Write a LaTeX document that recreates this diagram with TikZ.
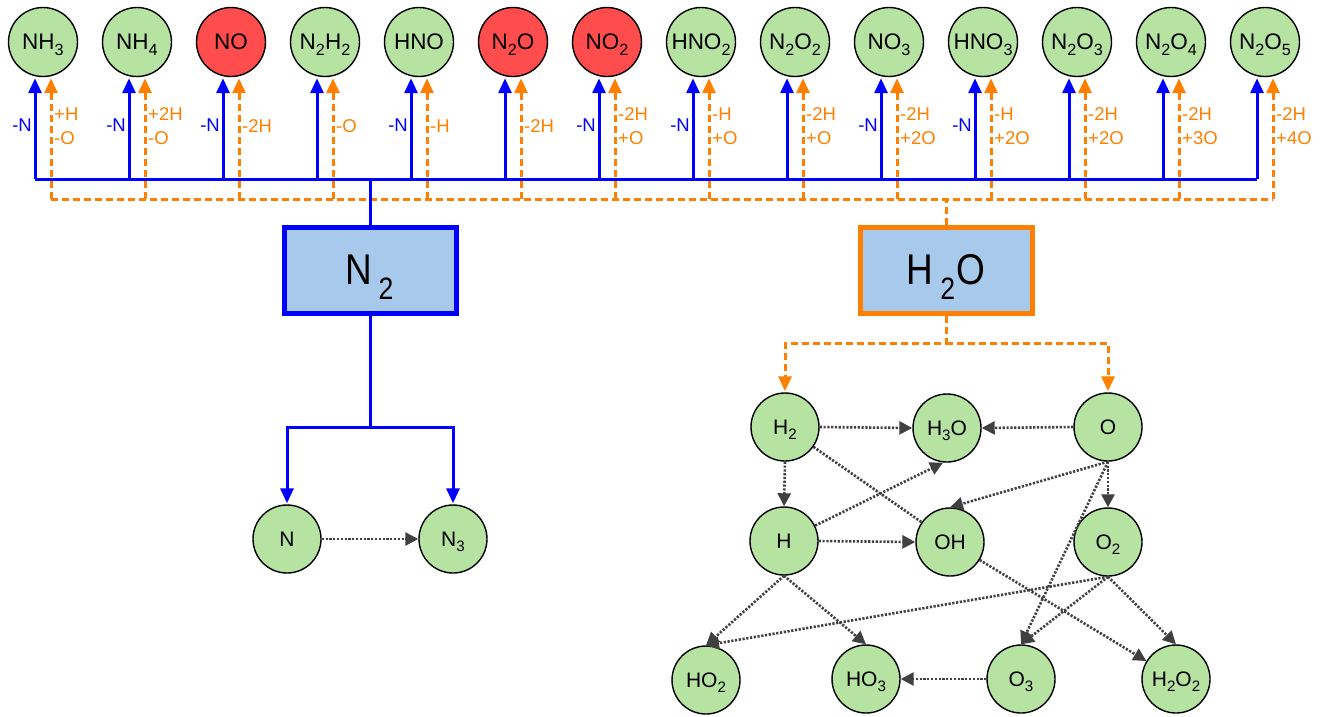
\documentclass[tikz,border=0pt]{standalone}
\usepackage{fontspec}
\usepackage{graphicx}
\setmainfont{Liberation Sans}
\usetikzlibrary{arrows.meta}
\definecolor{cgreen}{RGB}{182,227,162}
\definecolor{cred}{RGB}{255,77,77}
\definecolor{cbox}{RGB}{166,201,236}
\definecolor{corange}{RGB}{255,128,0}
\definecolor{cblue}{RGB}{0,0,255}
\definecolor{cgray}{RGB}{64,64,64}
\newcommand\chsub[1]{\raisebox{-0.24em}[0pt][0pt]{\scalebox{0.72}{#1}}}
\newcommand\bigsub[1]{\hspace{0.18em}\raisebox{-0.34em}[0pt][0pt]{\scalebox{0.72}{#1}}\hspace{0.03em}}
\newcommand\squeeze[1]{\scalebox{0.86}[1]{#1}}
\newcommand\topunit[5]{%
  \node[topnode,fill=#4] (#2) at ({43+94*#1},42) {#3};
  \coordinate (#2b) at ({43+94*#1-8},179);
  \coordinate (#2o) at ({43+94*#1+8},199);
  \draw[orangearrow] (#2o) -- (#2o |- #2.south);
  \draw[bluearrow] (#2b) -- (#2b |- #2.south);
  \node[olabel] (#2ol) at ({43+94*#1+11},126) {#5};
}
\begin{document}
\begin{tikzpicture}[x=1pt,y=-1pt,
  topnode/.style={circle,draw=black,line width=1.4pt,minimum size=69pt,inner sep=0pt,font=\fontsize{22.5}{27}\selectfont},
  molnode/.style={circle,draw=black,line width=1.4pt,fill=cgreen,minimum size=68pt,inner sep=0pt,font=\fontsize{21}{25}\selectfont},
  bigbox/.style={rectangle,line width=5pt,fill=cbox,minimum width=172pt,minimum height=86pt,inner sep=0pt,font=\fontsize{43}{48}\selectfont},
  blueline/.style={draw=cblue,line width=3pt},
  bluearrow/.style={blueline,shorten >=1pt,-{Triangle[width=13pt,length=15pt]}},
  orangeline/.style={draw=corange,line width=3pt,dash pattern=on 7pt off 4pt},
  orangearrow/.style={orangeline,shorten >=1pt,-{Triangle[width=13pt,length=15pt]}},
  dotline/.style={draw=cgray,line width=2.6pt,dash pattern=on 2.2pt off 1.6pt},
  dotarrow/.style={dotline,-{Triangle[width=13pt,length=13pt]}},
  blabel/.style={text=cblue,font=\fontsize{18.5}{24}\selectfont,inner sep=0pt,anchor=east},
  olabel/.style={text=corange,font=\fontsize{18.5}{24}\selectfont,inner sep=0pt,anchor=west,align=left},
]
\fill[white] (0,0) rectangle (1327,716);
\useasboundingbox (0,0) rectangle (1327,716);

% top row
\topunit{0}{nh3}{NH\chsub{3}}{cgreen}{+H\\-O}
\topunit{1}{nh4}{NH\chsub{4}}{cgreen}{+2H\\-O}
\topunit{2}{no}{NO}{cred}{-2H}
\topunit{3}{n2h2}{N\chsub{2}H\chsub{2}}{cgreen}{-O}
\topunit{4}{hno}{HNO}{cgreen}{-H}
\topunit{5}{n2o}{N\chsub{2}O}{cred}{-2H}
\topunit{6}{no2}{NO\chsub{2}}{cred}{-2H\\+O}
\topunit{7}{hno2}{HNO\chsub{2}}{cgreen}{-H\\+O}
\topunit{8}{n2o2}{N\chsub{2}O\chsub{2}}{cgreen}{-2H\\+O}
\topunit{9}{no3}{NO\chsub{3}}{cgreen}{-2H\\+2O}
\topunit{10}{hno3}{HNO\chsub{3}}{cgreen}{-H\\+2O}
\topunit{11}{n2o3}{N\chsub{2}O\chsub{3}}{cgreen}{-2H\\+2O}
\topunit{12}{n2o4}{N\chsub{2}O\chsub{4}}{cgreen}{-2H\\+3O}
\topunit{13}{n2o5}{N\chsub{2}O\chsub{5}}{cgreen}{-2H\\+4O}

\foreach \nm in {nh3,nh4,no,hno,no2,hno2,no3,hno3}
  \node[blabel] (\nm bl) at ([xshift=-3pt]\nm b |- 0,125) {-N};

% boxes
\node[bigbox,draw=cblue] (boxN2) at (370,270) {\squeeze{N\bigsub{2}}};
\node[bigbox,draw=corange] (boxH2O) at (946,270) {\squeeze{H\bigsub{2}O}};

% buses
\draw[orangeline] (nh3o) -- (n2o5o);
\draw[orangeline] (boxH2O.north) -- (boxH2O.north |- nh3o);
\draw[blueline] (nh3b) -- (n2o5b);
\draw[blueline] (boxN2.north) -- (boxN2.north |- nh3b);

% N2 branch
\node[molnode] (nN) at (287,539) {N};
\node[molnode] (nN3) at (453,539) {N\chsub{3}};
\coordinate (nj) at (370,427);
\draw[bluearrow] (boxN2.south) -- (nj) -| (nN.north);
\draw[bluearrow] (nj) -| (nN3.north);
\draw[dotarrow] (nN) -- (nN3);

% H2O branch
\node[molnode] (h2) at (785,427) {H\chsub{2}};
\node[molnode] (h3o) at (947,428) {H\chsub{3}O};
\node[molnode] (o) at (1108,427) {O};
\node[molnode] (h) at (784,541) {H};
\node[molnode] (oh) at (950,542) {OH};
\node[molnode] (o2) at (1108,542) {O\chsub{2}};
\node[molnode] (ho2) at (706,680) {HO\chsub{2}};
\node[molnode] (ho3) at (866,679) {HO\chsub{3}};
\node[molnode] (o3) at (1021,679) {O\chsub{3}};
\node[molnode] (h2o2) at (1176,679) {H\chsub{2}O\chsub{2}};
\coordinate (hj) at (946,343);
\draw[orangearrow] (boxH2O.south) -- (hj) -| (h2.north);
\draw[orangearrow] (hj) -| (o.north);

\draw[dotarrow] (h2.east) -- (h3o.west);
\draw[dotarrow] (o.west) -- (h3o.east);
\draw[dotarrow] (h2.south) -- (h.north);
\draw[dotarrow] (h) -- ([xshift=-4pt]h3o.south);
\draw[dotline] (h2) -- (oh);
\draw[dotarrow] (o.south) -- (oh.north);
\draw[dotarrow] (o.south) -- (o2.north);
\draw[dotarrow] (o.south) -- (o3.north);
\draw[dotarrow] (h.east) -- (oh.west);
\draw[dotarrow] (h.south) -- (ho2.north);
\draw[dotarrow] (h.south) -- (ho3.north);
\draw[dotarrow] (o2.south) -- (ho2.north);
\draw[dotarrow] (o2.south) -- (o3.north);
\draw[dotarrow] (oh) -- (h2o2);
\draw[dotarrow] (o2.south) -- (h2o2.north);
\draw[dotarrow] (o3.west) -- (ho3.east);
\end{tikzpicture}
\end{document}
